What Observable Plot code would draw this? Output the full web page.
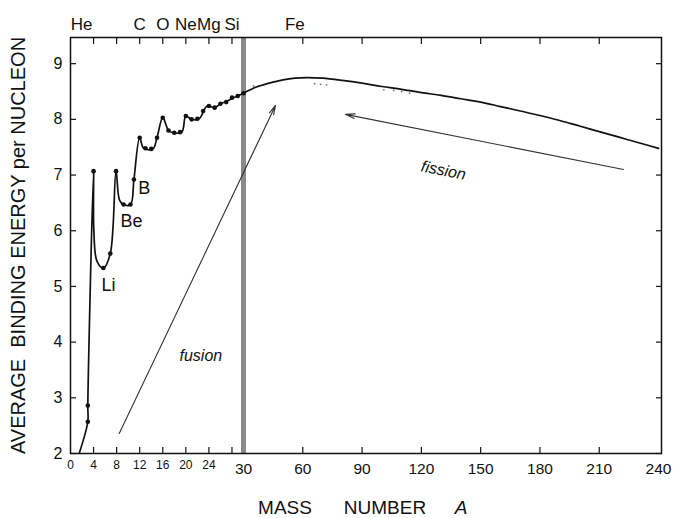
<!DOCTYPE html>
<html><head><meta charset="utf-8">
<script src="https://cdn.jsdelivr.net/npm/d3@7"></script>
<script src="https://cdn.jsdelivr.net/npm/@observablehq/plot@0.6"></script>
<style>body{margin:0;background:#fff}</style>
</head><body><div id="chart"></div>
<script>
// Curve drawn through the binding energies (mass number A, MeV per nucleon)
const curveA = [1.5, 3, 3, 4, 4.05, 4.6, 5.7, 6.9, 7.9, 8.5, 9.2, 10.4, 11, 12, 12.7, 14.3, 15, 16, 17, 17.8, 19.3, 20, 21, 22.3, 23.7, 25, 26, 27.2, 28.3, 30,
  35, 40, 45, 50, 56, 62, 70, 80, 90, 100, 110, 120, 130, 140, 150, 160, 170, 180, 190, 200, 210, 220, 230, 240];
const curveB = [2.0, 2.57, 2.86, 7.07, 6.0, 5.45, 5.33, 5.59, 7.07, 6.55, 6.47, 6.47, 6.92, 7.67, 7.48, 7.47, 7.67, 8.03, 7.8, 7.76, 7.77, 8.06, 8.0, 8.01, 8.24, 8.21, 8.28, 8.33, 8.39, 8.47,
  8.56, 8.62, 8.67, 8.71, 8.74, 8.75, 8.74, 8.70, 8.65, 8.59, 8.54, 8.48, 8.43, 8.37, 8.31, 8.23, 8.15, 8.07, 7.98, 7.88, 7.78, 7.68, 7.58, 7.48];
// Measured light nuclides (dots)
const dotA = [3, 3, 4, 5.7, 6.9, 7.9, 9.2, 10.4, 11, 12, 13, 14, 15, 16, 17, 18, 19, 20, 21, 22, 23, 24, 25, 26, 27, 28, 29, 30];
const dotB = [2.57, 2.86, 7.07, 5.33, 5.59, 7.07, 6.47, 6.47, 6.92, 7.67, 7.48, 7.47, 7.67, 8.03, 7.8, 7.76, 7.77, 8.06, 8.0, 8.01, 8.15, 8.24, 8.21, 8.28, 8.31, 8.39, 8.42, 8.47];
// faint scattered nuclide specks
const speckA = [35, 38, 66, 69, 72, 101, 106, 110, 114];
const speckB = [8.6, 8.6, 8.64, 8.63, 8.62, 8.53, 8.52, 8.5, 8.47];

// axis ticks
const yTicks = [2, 3, 4, 5, 6, 7, 8, 9];
const xTickMarks = [4, 8, 12, 16, 20, 24, 28, 60, 90, 120, 150, 180, 210];
const xSmallLabels = [0, 4, 8, 12, 16, 20, 24];
const xBigLabels = [30, 60, 90, 120, 150, 180, 210, 240];
const breakAt = [30];

// element labels on top
const topNames = ["C", "O", "Ne", "Mg", "Si", "Fe"];
const topA = [12, 16, 20, 24, 28, 56];
const heName = ["He"];
const heA = [4];

// labels near curve
const curveLabels = ["Li", "Be", "B"];
const curveLabelA = [6.6, 10.6, 12.8];
const curveLabelB = [5.02, 6.17, 6.76];

// arrows: fusion, fission
const arrowA1 = [8.45, 222.3];
const arrowB1 = [2.36, 7.10];
const arrowA2 = [46.2, 81.6];
const arrowB2 = [8.25, 8.09];
const arrowText = ["fusion", "fission"];
const arrowTextA = [22.6, 131.2];
const arrowTextB = [3.76, 7.08];

const curve = curveA.map((a, i) => ({A: a, B: curveB[i]}));
const dots = dotA.map((a, i) => ({A: a, B: dotB[i]}));
const specks = speckA.map((a, i) => ({A: a, B: speckB[i]}));
const arrows = arrowA1.map((a, i) => ({x1: a, y1: arrowB1[i], x2: arrowA2[i], y2: arrowB2[i]}));
const tops = topA.map((a, i) => ({A: a, name: topNames[i]}));
const labels = curveLabelA.map((a, i) => ({A: a, B: curveLabelB[i], t: curveLabels[i]}));

const sans = "'Liberation Sans', Arial, Helvetica, sans-serif";

const chart = Plot.plot({
  width: 673, height: 518,
  marginLeft: 70, marginRight: 12, marginTop: 37, marginBottom: 65,
  style: {background: "#fff", color: "#111", fontFamily: sans},
  x: {type: "linear", domain: [0, 30, 241.5], range: [70, 243, 661]},
  y: {domain: [2, 9.47]},
  marks: [
    Plot.ruleX(breakAt, {stroke: "#8a8a8a", strokeWidth: 5}),
    Plot.frame({stroke: "#111", strokeWidth: 1.5}),
    // left axis
    Plot.axisY({anchor: "left", ticks: yTicks, tickSize: -6, tickPadding: 14, fontSize: 16, fontFamily: sans, label: null, strokeWidth: 1.2}),
    Plot.axisY({anchor: "right", ticks: yTicks, tickSize: -6, tickFormat: () => "", label: null, strokeWidth: 1.2}),
    // bottom axis
    Plot.axisX({anchor: "bottom", ticks: xTickMarks, tickSize: -6, tickFormat: () => "", label: null, strokeWidth: 1.2}),
    Plot.axisX({anchor: "bottom", ticks: xSmallLabels, tickSize: 0, tickPadding: 7, fontSize: 12, fontFamily: sans, label: null}),
    Plot.axisX({anchor: "bottom", ticks: xBigLabels, tickSize: 0, tickPadding: 9, fontSize: 15.5, fontFamily: sans, label: null}),
    // top axis
    Plot.axisX({anchor: "top", ticks: xTickMarks, tickSize: -6, tickFormat: () => "", label: null, strokeWidth: 1.2}),
    Plot.text(tops, {x: "A", text: "name", frameAnchor: "top", lineAnchor: "middle", dy: -13, fontSize: 17, fontFamily: sans}),
    Plot.text(heA, {x: d => d, text: (d, i) => heName[i], frameAnchor: "top", lineAnchor: "middle", dy: -13, dx: -12, fontSize: 17, fontFamily: sans}),
    // specks
    Plot.dot(specks, {x: "A", y: "B", r: 0.9, fill: "#777", stroke: null}),
    // curve
    Plot.line(curve, {x: "A", y: "B", curve: "catmull-rom", stroke: "#111", strokeWidth: 1.7, clip: true}),
    Plot.dot(dots, {x: "A", y: "B", r: 2.3, fill: "#111", stroke: null}),
    // labels near curve
    Plot.text(labels, {x: "A", y: "B", text: "t", fontSize: 18, fontFamily: sans}),
    // arrows
    Plot.arrow(arrows, {x1: "x1", y1: "y1", x2: "x2", y2: "y2", stroke: "#333", strokeWidth: 1.1, headLength: 13, headAngle: 28}),
    Plot.text([0], {x: () => arrowTextA[0], y: () => arrowTextB[0], text: () => arrowText[0], fontSize: 16, fontStyle: "italic", fontFamily: sans}),
    Plot.text([0], {x: () => arrowTextA[1], y: () => arrowTextB[1], text: () => arrowText[1], fontSize: 16, fontStyle: "italic", fontFamily: sans, rotate: 11}),
    // axis titles
    Plot.text(["AVERAGE  BINDING ENERGY per NUCLEON"], {text: d => d, frameAnchor: "left", textAnchor: "middle", lineAnchor: "middle", dx: -52, rotate: -90, fontSize: 20, fontFamily: sans}),
    Plot.text(["MASS"], {text: d => d, frameAnchor: "bottom", lineAnchor: "middle", dx: -81, dy: 54, fontSize: 19, fontFamily: sans}),
    Plot.text(["NUMBER"], {text: d => d, frameAnchor: "bottom", lineAnchor: "middle", dx: 19, dy: 54, fontSize: 19, fontFamily: sans}),
    Plot.text(["A"], {text: d => d, frameAnchor: "bottom", lineAnchor: "middle", dx: 95, dy: 54, fontSize: 19, fontStyle: "italic", fontFamily: sans})
  ]
});
document.getElementById("chart").appendChild(chart);
</script>
</body></html>
